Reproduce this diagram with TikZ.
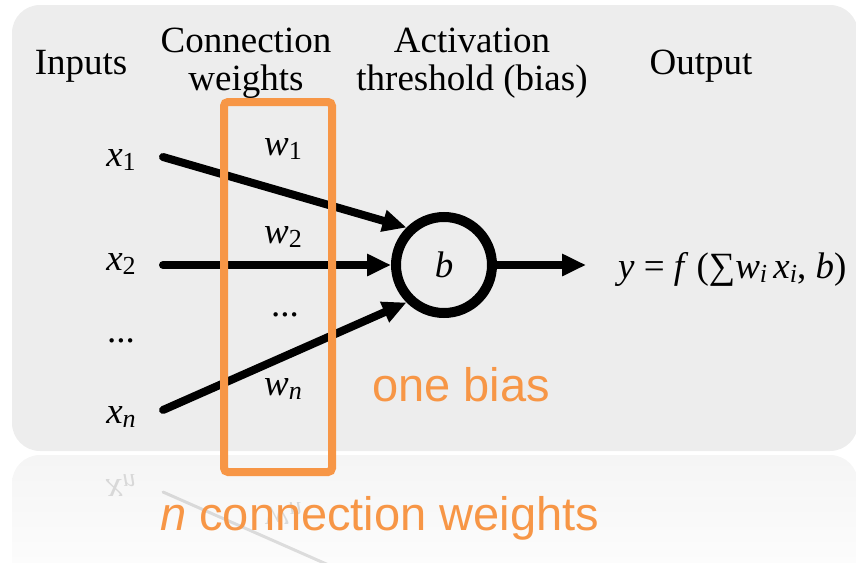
\documentclass[tikz,border=0pt]{standalone}
\usepackage{fontspec}
\setmainfont{Liberation Serif}
\newfontfamily\notesans{Liberation Sans}
\usetikzlibrary{arrows.meta}
\definecolor{panelgray}{RGB}{237,237,237}
\definecolor{noteorange}{RGB}{247,150,70}
\newcommand{\lowsub}[1]{\raisebox{-0.12em}{\fontsize{26}{26}\selectfont #1}}

\begin{document}
\begin{tikzpicture}[x=1pt, y=-1pt,
    every node/.style={inner sep=0pt, font=\fontsize{37}{38}\selectfont},
    link/.style={line width=8pt, line cap=round, -{Triangle[length=24pt, width=21pt]}},
    note/.style={font=\notesans\fontsize{47}{50}\selectfont, text=noteorange, anchor=base west}]
  \useasboundingbox (0,0) rectangle (856,562);

  % Panel and its reflection
  \fill[panelgray, rounded corners=28pt] (12,5) rectangle (858,451);
  \shade[top color=black!4, bottom color=white, rounded corners=28pt] (12,455) rectangle (858,610);
  \begin{scope}[opacity=0.12]
    \node[yscale=-1, transform shape, anchor=base] (xnr) at (121,479) {\itshape x\lowsub{n}};
    \node[yscale=-1, transform shape, anchor=base] (wnr) at (283,507) {\itshape w\lowsub{n}};
    \coordinate (snr) at (163,492);
    \coordinate (enr) at (408,600);
    \draw[line width=3pt, line cap=round] (snr) -- (enr);
  \end{scope}

  % Column headings
  \node[anchor=base] (inputs) at (81,74) {Inputs};
  \node[anchor=base, align=center] (weights) at (246,90) {Connection\\weights};
  \node[anchor=base, align=center] (bias) at (472,90) {Activation\\threshold (bias)};
  \node[anchor=base] (output) at (701,74) {Output};

  % Neuron
  \node[circle, draw, line width=10pt, minimum size=96pt] (neuron) at (444,265) {\itshape b};

  % Inputs
  \node[anchor=base] (x1) at (121,166) {\itshape x\lowsub{\upshape 1}};
  \node[anchor=base] (x2) at (121,270) {\itshape x\lowsub{\upshape 2}};
  \node[anchor=base] (xdots) at (121,342) {...};
  \node[anchor=base] (xn) at (121,423) {\itshape x\lowsub{n}};
  \coordinate (s1) at (163,157);
  \coordinate (s2) at (163,265);
  \coordinate (sn) at (163,410);

  % Weights
  \node[anchor=base] (w1) at (283,155) {\itshape w\lowsub{\upshape 1}};
  \node[anchor=base] (w2) at (283,243) {\itshape w\lowsub{\upshape 2}};
  \node[anchor=base] (wdots) at (285,316) {...};
  \node[anchor=base] (wn) at (283,395) {\itshape w\lowsub{n}};

  % Connections
  \draw[link] (s1) -- (neuron.135);
  \draw[link] (s2) -- (neuron.west);
  \draw[link] (sn) -- (neuron.225);

  % Output
  \coordinate (yout) at (586,265);
  \draw[link, line cap=butt] (neuron.east) -- (yout);
  \node[anchor=base west] (formula) at (618,278)
    {\itshape y \upshape= \itshape f\upshape\,\,(∑\itshape w\lowsub{i}\,x\lowsub{i}\upshape, \itshape b\upshape)};

  % Annotations
  \draw[noteorange, line width=8pt, rounded corners=4pt] (224,102) rectangle (332,472);
  \node[note] (onebias) at (372,401) {one bias};
  \node[note] (nweights) at (160,530) {\itshape n\upshape{} connection weights};
\end{tikzpicture}
\end{document}
